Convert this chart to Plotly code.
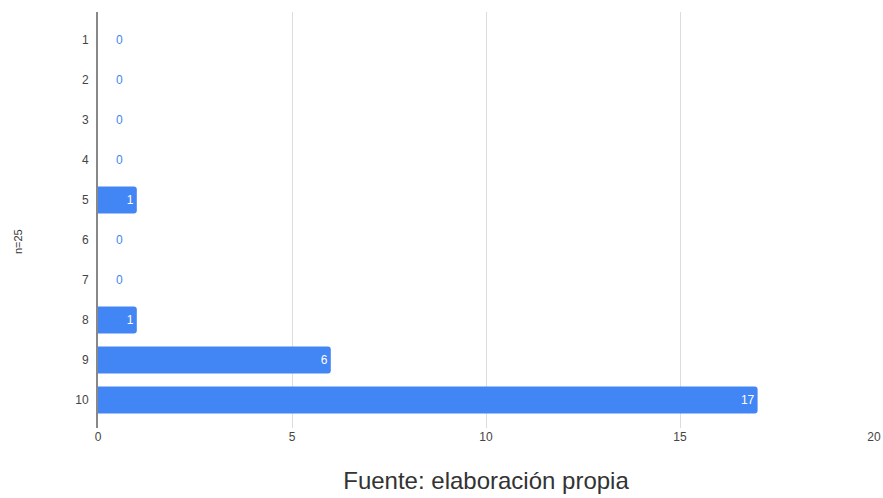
import plotly.graph_objects as go

categories = ["1", "2", "3", "4", "5", "6", "7", "8", "9", "10"]
values = [0, 0, 0, 0, 1, 0, 0, 1, 6, 17]
x_ticks = [0, 5, 10, 15, 20]
y_title = "n=25"
x_title = "Fuente: elaboración propia"

blue = "#4285F4"
font_family = "Arial, Liberation Sans, sans-serif"

fig = go.Figure(go.Bar(
    y=categories, x=values, orientation="h",
    marker=dict(color=blue, line=dict(width=0)),
    width=0.67,
    text=[str(v) if v != 0 else "" for v in values],
    textposition="inside",
    insidetextanchor="end",
    textfont=dict(color="white", size=12, family=font_family),
    cliponaxis=False,
))

# zero-value labels shown just right of the axis (y given as category index)
for i, v in enumerate(values):
    if v == 0:
        fig.add_annotation(x=v, y=i, text=str(v), showarrow=False,
                           xanchor="center", xshift=21,
                           font=dict(color=blue, size=12, family=font_family))

# y axis title, placed slightly below centre as in the original
fig.add_annotation(xref="paper", yref="paper", x=-0.103, y=0.447,
                   text=y_title, textangle=-90, showarrow=False,
                   xanchor="center", yanchor="middle",
                   font=dict(size=11, color="#333", family=font_family))

fig.update_layout(
    width=883, height=498,
    margin=dict(l=98, r=9, t=12, b=70),
    plot_bgcolor="white", paper_bgcolor="white",
    barcornerradius=3,
    showlegend=False,
    font=dict(family=font_family, color="#444"),
)
fig.update_xaxes(
    range=[0, 20], tickvals=x_ticks, ticktext=[str(t) for t in x_ticks],
    showgrid=True, gridcolor="#dddddd", gridwidth=1, zeroline=False,
    showline=False, tickfont=dict(size=12, color="#444"), ticks="",
    automargin=False,
    title=dict(text=x_title, font=dict(size=24, color="#333"), standoff=29),
)
fig.update_yaxes(
    type="category", categoryorder="array", categoryarray=categories,
    range=[9.7, -0.7], showgrid=False, zeroline=False,
    showline=True, linecolor="#888", linewidth=2,
    tickfont=dict(size=12, color="#444"), ticks="", ticklabelstandoff=5,
    automargin=False,
)
fig.write_html("out.html")
